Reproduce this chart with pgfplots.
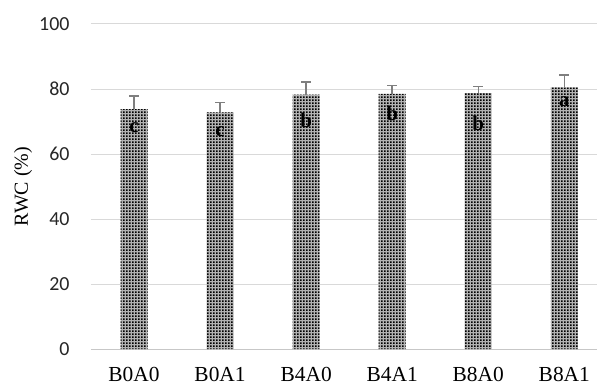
\documentclass[border=0pt]{standalone}
\usepackage{pgfplots}
\pgfplotsset{compat=1.18}
\usepackage{fontspec}
\setmainfont{Liberation Serif}
\newfontfamily\calibri{Carlito}
\usetikzlibrary{patterns}

% fine checker texture used for the bars
\pgfdeclarepatternformonly{bargrid}{\pgfpointorigin}{\pgfpoint{3bp}{3bp}}{\pgfpoint{3bp}{3bp}}{%
  \pgfpathrectangle{\pgfpointorigin}{\pgfpoint{2bp}{2bp}}%
  \pgfusepath{fill}%
}

\definecolor{gridgray}{HTML}{D9D9D9}
\definecolor{errgray}{HTML}{7F7F7F}

\begin{document}
\begin{tikzpicture}
\path[use as bounding box] (-91bp,-43bp) rectangle (506bp,349bp);
\begin{axis}[
  at={(0,0)}, anchor=south west,
  scale only axis,
  width=506bp, height=325bp,
  xmin=-0.5, xmax=5.38,
  ymin=0, ymax=100,
  ytick={0,20,...,100},
  xtick={0,...,5},
  xticklabels={B0A0,B0A1,B4A0,B4A1,B8A0,B8A1},
  axis x line*=bottom,
  axis y line*=left,
  y axis line style={draw=none},
  x axis line style={draw=gridgray!80!gray, line width=1pt},
  major tick length=0pt,
  ymajorgrids,
  grid style={draw=gridgray, line width=1pt},
  /pgf/number format/assume math mode=true,
  yticklabel style={font=\fontsize{20}{24}\calibri, color=black!85, xshift=-18bp},
  xticklabel style={font=\fontsize{21.5}{25}\selectfont, text height=14bp, text depth=0bp, yshift=-15bp},
  ylabel={RWC (\%)},
  every axis y label/.style={at={(-68bp,0.5)}, rotate=90, anchor=center,
    font=\fontsize{20}{24}\selectfont},
  clip=false,
]
\addplot[
  ybar, bar width=27bp, draw=none, fill=gray!60,
  postaction={pattern=bargrid, pattern color=black},
  error bars/.cd, y dir=plus, y explicit,
  error mark options={rotate=90, mark size=5bp, line width=1.4pt, errgray},
  error bar style={line width=1.4pt, errgray},
] coordinates {
  (0,73.8) +- (0,4.1)
  (1,72.8) +- (0,3.0)
  (2,78.3) +- (0,3.8)
  (3,78.5) +- (0,2.5)
  (4,78.7) +- (0,2.0)
  (5,80.5) +- (0,3.8)
};
% significance letters
\begin{scope}[every node/.style={font=\fontsize{21}{25}\selectfont\bfseries}]
  \node at (axis cs:0,68.0) {c};
  \node at (axis cs:1,66.9) {c};
  \node at (axis cs:2,70.5) {b};
  \node at (axis cs:3,72.6) {b};
  \node at (axis cs:4,69.5) {b};
  \node at (axis cs:5,76.0) {a};
\end{scope}
\end{axis}
\end{tikzpicture}
\end{document}
